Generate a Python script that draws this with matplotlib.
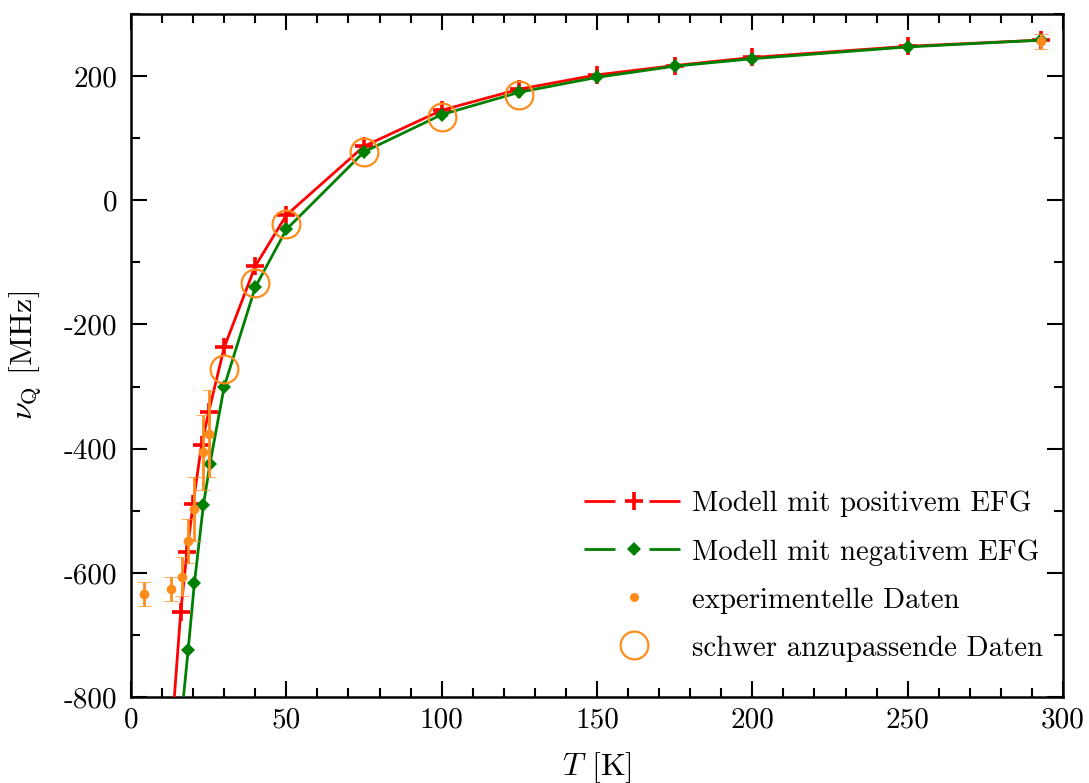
import matplotlib
matplotlib.use("Agg")
import matplotlib.pyplot as plt
from matplotlib.lines import Line2D
from matplotlib.ticker import MultipleLocator, FuncFormatter

plt.rcParams['font.family'] = ['cmr10', 'DejaVu Serif']
plt.rcParams['mathtext.fontset'] = 'cm'
plt.rcParams['axes.unicode_minus'] = False
plt.rcParams['lines.scale_dashes'] = False

# --- data ---
T_pos = [13.5, 16, 18, 20, 22.7, 25, 30, 40, 50, 75, 100, 125, 150, 175, 200, 250, 293]
v_pos = [-830, -663, -567, -489, -394, -341, -237, -106, -24, 87, 145, 179, 202, 217, 230, 248, 258]

T_neg = [16, 18.4, 20.4, 23.3, 25.4, 30, 40, 50, 75, 100, 125, 150, 175, 200, 250, 293]
v_neg = [-845, -724, -617, -491, -425, -300, -140, -47, 78, 138, 174, 198, 216, 228, 247, 258]

T_exp = [4.2, 13.0, 16.3, 18.2, 20.3, 23.1, 25.1, 293]
v_exp = [-634, -626, -606, -549, -497, -406, -376, 256]
e_exp = [20, 19, 31, 35, 51, 60, 70, 12]

T_hard = [30, 40, 50, 75, 100, 125]
v_hard = [-271, -133, -38, 77, 134, 169]

labels = ["Modell mit positivem EFG", "Modell mit negativem EFG",
          "experimentelle Daten", "schwer anzupassende Daten"]

RED = '#ff0000'
GREEN = '#008000'
ORANGE = '#ff8c1a'

fig = plt.figure(figsize=(10.89, 7.83), dpi=100)
ax = fig.add_axes([0.1203, 0.1098, 0.9761 - 0.1203, 0.9821 - 0.1098])

ax.plot(T_pos, v_pos, color=RED, lw=2, marker='+', ms=13, mew=2.6, zorder=3)
ax.plot(T_neg, v_neg, color=GREEN, lw=2, marker='D', ms=7, mew=0, zorder=3)
ax.errorbar(T_exp, v_exp, yerr=e_exp, fmt='o', color=ORANGE, ms=6.5, mec=ORANGE,
            mew=0.5, elinewidth=2, capsize=5, capthick=2, zorder=4)
ax.plot(T_hard, v_hard, ls='none', marker='o', ms=20, mfc='none', mec=ORANGE, mew=1.6, zorder=5)

ax.set_xlim(0, 300)
ax.set_ylim(-800, 300)
ax.xaxis.set_major_locator(MultipleLocator(50))
ax.xaxis.set_minor_locator(MultipleLocator(10))
ax.yaxis.set_major_locator(MultipleLocator(200))
ax.yaxis.set_minor_locator(MultipleLocator(100))
fmt = FuncFormatter(lambda v, p: "%d" % round(v))
ax.xaxis.set_major_formatter(fmt)
ax.yaxis.set_major_formatter(fmt)
ax.tick_params(which='both', direction='in', top=True, right=True, width=1.5)
ax.tick_params(which='major', length=11.5, labelsize=21)
ax.tick_params(axis='y', which='major', pad=10)
ax.tick_params(axis='x', which='major', pad=7)
ax.tick_params(which='minor', length=6.5)
for s in ax.spines.values():
    s.set_linewidth(1.8)

ax.set_xlabel(r'$T$ [K]', fontsize=23, labelpad=12)
ax.set_ylabel(r'$\nu_\mathrm{Q}$ [MHz]', fontsize=23, labelpad=14)

h1 = Line2D([], [], color=RED, lw=2, ls=(0, (22.3, 24.5)), marker='+', ms=13, mew=2.6)
h2 = Line2D([], [], color=GREEN, lw=2, ls=(0, (22.3, 24.5)), marker='D', ms=7, mew=0)
h3 = Line2D([], [], ls='none', marker='o', color=ORANGE, ms=6.5, mew=0)
h4 = Line2D([], [], ls='none', marker='o', ms=20, mfc='none', mec=ORANGE, mew=1.6)
ax.legend([h1, h2, h3, h4], labels, loc='lower right', frameon=False, fontsize=20.8,
          handlelength=3.4, handletextpad=0.32, labelspacing=0.75, numpoints=1,
          borderaxespad=0.0, bbox_to_anchor=(0.991, 0.035))

fig.savefig('out.png', dpi=100)
